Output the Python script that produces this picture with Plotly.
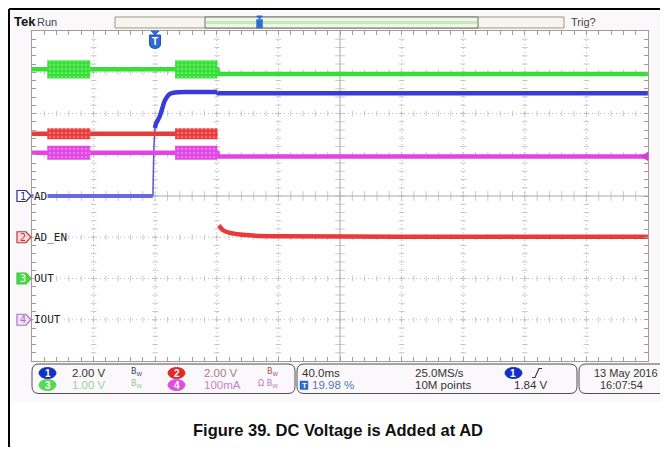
import plotly.graph_objects as go

# ---------------- data ----------------
TIME_PER_DIV = 40.0          # ms / div
TRIG_POS = 0.1998            # trigger position (fraction of record)
T0 = -TRIG_POS * 10 * TIME_PER_DIV
T1 = T0 + 10 * TIME_PER_DIV

# Ch1  AD (V)
ad_t = [-79.9, -1.4, -1.1, -0.8, -0.1, 0.5, 1.8, 3.1, 4.4, 5.7, 7.7, 9.6, 12.9, 19.4, 40.5, 41.0, 320.0]
ad_v = [0.0, 0.0, 1.3, 2.3, 3.3, 3.49, 3.68, 3.88, 4.17, 4.51, 4.80, 4.95, 5.02, 5.04, 5.04, 4.98, 4.98]
# Ch2  AD_EN (V)
en_t = [-79.9, 40.5, None, 41.4, 44.2, 48.6, 55.1, 63.5, 81.0, 159.0, 320.0]
en_v = [5.02, 5.02, None, 0.58, 0.34, 0.21, 0.13, 0.08, 0.05, 0.03, 0.03]
# Ch3  OUT (V)
out_t = [-79.9, 40.5, 41.0, 320.0]
out_v = [5.07, 5.07, 4.96, 4.96]
# Ch4  IOUT (mA)
iout_t = [-79.9, 40.5, 41.0, 320.0]
iout_v = [405, 405, 396, 396]

# switching bursts (ms) and half peak-to-peak amplitude per channel
burst_start = [-70.0, 13.0]
burst_end = [-42.0, 40.5]
en_burst = 0.27
out_burst = 0.22
iout_burst = 17

ch_names = ["AD", "AD_EN", "OUT", "IOUT"]
ch_scale = [2.0, 2.0, 1.0, 100.0]      # units / div
ch_offset_div = [0, -1, -2, -3]        # ground marker, div from centre
ch_colors = ["#3a3ad4", "#e83a3a", "#35df35", "#e246e2"]

# ---------------- geometry helpers (page pixels; page has an 8px body margin) ----------------
OFF = 8
W, H = 668 - 2 * OFF, 455 - 2 * OFF
L, R, TOP, BOT = 32, 648, 31, 361
PW, PH = R - L, BOT - TOP


def xp(px):
    return (px - L) / PW


def yp(py):
    return (BOT - py) / PH


yranges = [[(-4 - o) * s, (4 - o) * s] for s, o in zip(ch_scale, ch_offset_div)]

fig = go.Figure()
shapes = []
annots = []

# scope screen background
shapes.append(dict(type="rect", xref="paper", yref="paper", x0=xp(11), x1=xp(676), y0=yp(11), y1=yp(402),
                   fillcolor="#fbf8fb", line_width=0, layer="below"))
shapes.append(dict(type="rect", xref="paper", yref="paper", x0=0, x1=1, y0=0, y1=1,
                   fillcolor="white", line_width=0, layer="below"))
# outer frame
shapes.append(dict(type="line", xref="paper", yref="paper", x0=xp(9), x1=xp(9), y0=yp(9), y1=yp(464),
                   line=dict(color="black", width=2)))
shapes.append(dict(type="line", xref="paper", yref="paper", x0=xp(9), x1=xp(677), y0=yp(9), y1=yp(9),
                   line=dict(color="black", width=2)))

# graticule
GRID = "#bdbdbd"
for k in range(1, 10):
    t = T0 + k * TIME_PER_DIV
    shapes.append(dict(type="line", xref="x", yref="paper", x0=t, x1=t, y0=0, y1=1, layer="below",
                       line=dict(color="#a8a8a8" if k == 5 else GRID, width=1, dash="solid" if k == 5 else "1px,3px")))
for k in range(1, 8):
    v = yranges[0][0] + k * ch_scale[0]
    shapes.append(dict(type="line", xref="paper", yref="y", x0=0, x1=1, y0=v, y1=v, layer="below",
                       line=dict(color="#a8a8a8" if k == 4 else GRID, width=1, dash="solid" if k == 4 else "1px,3px")))

# minor tick marks on centre lines and grid lines
minor_t = [T0 + i * TIME_PER_DIV / 5 for i in range(1, 50)]
minor_v = [yranges[0][0] + i * ch_scale[0] / 5 for i in range(1, 40)]
tx, ty, tsz = [], [], []
for k in range(1, 8):
    v = yranges[0][0] + k * ch_scale[0]
    for t in minor_t:
        tx.append(t); ty.append(v); tsz.append(7 if k == 4 else 4)
fig.add_trace(go.Scatter(x=tx, y=ty, mode="markers", hoverinfo="skip", showlegend=False,
                         marker=dict(symbol="line-ns", size=tsz, line=dict(color="#b4b4b4", width=1))))
tx, ty, tsz = [], [], []
for k in range(1, 10):
    t = T0 + k * TIME_PER_DIV
    for v in minor_v:
        tx.append(t); ty.append(v); tsz.append(7 if k == 5 else 4)
fig.add_trace(go.Scatter(x=tx, y=ty, mode="markers", hoverinfo="skip", showlegend=False,
                         marker=dict(symbol="line-ew", size=tsz, line=dict(color="#b4b4b4", width=1))))

# ---------------- waveforms ----------------
def bursts(level, half, axis, color, light):
    for s, e in zip(burst_start, burst_end):
        fig.add_trace(go.Scatter(x=[s, e, e, s, s], y=[level + half, level + half, level - half, level - half, level + half],
                                 yaxis=axis, mode="lines", fill="toself", line=dict(width=0, color=color),
                                 fillcolor=color, hoverinfo="skip", showlegend=False,
                                 fillpattern=dict(shape=".", bgcolor=color, fgcolor=light, size=4, solidity=0.35)))


# Ch4 IOUT
fig.add_trace(go.Scatter(x=iout_t, y=iout_v, yaxis="y4", mode="lines", line=dict(color=ch_colors[3], width=4.5),
                         showlegend=False, hoverinfo="skip"))
bursts(iout_v[0], iout_burst, "y4", ch_colors[3], "#f4a6f4")
# Ch3 OUT
fig.add_trace(go.Scatter(x=out_t, y=out_v, yaxis="y3", mode="lines", line=dict(color=ch_colors[2], width=4.5),
                         showlegend=False, hoverinfo="skip"))
bursts(out_v[0], out_burst, "y3", ch_colors[2], "#9cf39c")
# Ch2 AD_EN
fig.add_trace(go.Scatter(x=en_t, y=en_v, yaxis="y2", mode="lines", line=dict(color=ch_colors[1], width=4.5, shape="spline", smoothing=0.6),
                         showlegend=False, hoverinfo="skip", connectgaps=False))
bursts(en_v[0], en_burst, "y2", ch_colors[1], "#f7a0a0")
# Ch1 AD : fast edge thin, rest thick
fig.add_trace(go.Scatter(x=ad_t[1:5], y=ad_v[1:5], yaxis="y", mode="lines", line=dict(color="#5656c8", width=1.5),
                         showlegend=False, hoverinfo="skip"))
fig.add_trace(go.Scatter(x=ad_t[:2], y=ad_v[:2], yaxis="y", mode="lines", line=dict(color="#6a6ae0", width=4),
                         showlegend=False, hoverinfo="skip"))
fig.add_trace(go.Scatter(x=ad_t[4:15], y=ad_v[4:15], yaxis="y", mode="lines", line=dict(color=ch_colors[0], width=4.5, shape="spline", smoothing=0.5),
                         showlegend=False, hoverinfo="skip"))
fig.add_trace(go.Scatter(x=ad_t[14:], y=ad_v[14:], yaxis="y", mode="lines", line=dict(color=ch_colors[0], width=4.5),
                         showlegend=False, hoverinfo="skip"))

# ---------------- channel ground markers & labels ----------------
mk_fill = ["white", "#f8dada", "#4ad84a", "#f4e2f6"]
mk_line = ["#2a2a90", "#c83232", "#3cc83c", "#b070c0"]
mk_text = ["#2a2a90", "#c83232", "white", "#b070c0"]
for i, (name, (lo, hi)) in enumerate(zip(ch_names, yranges)):
    yg = (0 - lo) / (hi - lo)
    h = 5.5 / PH
    path = (f"M{xp(17)},{yg + h} L{xp(26)},{yg + h} L{xp(31)},{yg} L{xp(26)},{yg - h} "
            f"L{xp(17)},{yg - h} Z")
    shapes.append(dict(type="path", xref="paper", yref="paper", path=path, fillcolor=mk_fill[i],
                       line=dict(color=mk_line[i], width=1.2)))
    annots.append(dict(xref="paper", yref="paper", x=xp(22.5), y=yg, text=str(i + 1), showarrow=False,
                       xanchor="center", yanchor="middle", font=dict(family="DejaVu Sans Mono", size=10, color=mk_text[i])))
    annots.append(dict(xref="paper", yref="paper", x=xp(33), y=yg, text=name, showarrow=False, bgcolor="white",
                       borderpad=0, xanchor="left", yanchor="middle",
                       font=dict(family="DejaVu Sans Mono", size=11, color="#222")))

# ch4 level arrow at right edge
y4 = (iout_v[-1] - yranges[3][0]) / (yranges[3][1] - yranges[3][0])
shapes.append(dict(type="path", xref="paper", yref="paper",
                   path=f"M{xp(641)},{y4} L{xp(648)},{y4 + 4 / PH} L{xp(648)},{y4 - 4 / PH} Z",
                   fillcolor="#d23cd2", line=dict(color="#d23cd2", width=1)))

# trigger marker at top of graticule
xt = (0 - T0) / (T1 - T0)
cx = L + xt * PW
TB = "#2f6bd0"
shapes.append(dict(type="path", xref="paper", yref="paper",
                   path=f"M{xp(cx - 4)},{yp(31)} L{xp(cx + 4)},{yp(31)} L{xp(cx)},{yp(35)} Z",
                   fillcolor=TB, line=dict(color=TB, width=1)))
shapes.append(dict(type="path", xref="paper", yref="paper",
                   path=(f"M{xp(cx - 5.5)},{yp(35)} L{xp(cx + 5.5)},{yp(35)} L{xp(cx + 5.5)},{yp(44)} "
                         f"Q{xp(cx + 5.5)},{yp(48)} {xp(cx)},{yp(48.5)} Q{xp(cx - 5.5)},{yp(48)} {xp(cx - 5.5)},{yp(44)} Z"),
                   fillcolor=TB, line=dict(color="#1d4fa8", width=1)))
annots.append(dict(xref="paper", yref="paper", x=xp(cx), y=yp(41.5), text="<b>T</b>", showarrow=False,
                   xanchor="center", yanchor="middle", font=dict(family="Liberation Sans", size=10, color="white")))

# ---------------- header ----------------
annots.append(dict(xref="paper", yref="paper", x=xp(12), y=yp(22), text="<b>Tek</b>", showarrow=False,
                   xanchor="left", yanchor="middle", font=dict(family="Liberation Sans Narrow, Liberation Sans", size=13, color="#111")))
annots.append(dict(xref="paper", yref="paper", x=xp(35), y=yp(22), text="Run", showarrow=False,
                   xanchor="left", yanchor="middle", font=dict(family="Liberation Sans", size=11, color="#444")))
annots.append(dict(xref="paper", yref="paper", x=xp(569), y=yp(22), text="Trig?", showarrow=False,
                   xanchor="left", yanchor="middle", font=dict(family="Liberation Sans", size=11, color="#444")))
shapes.append(dict(type="rect", xref="paper", yref="paper", x0=xp(115), x1=xp(564), y0=yp(17), y1=yp(28),
                   fillcolor="#f7f4ee", line=dict(color="#9c968a", width=1)))
shapes.append(dict(type="rect", xref="paper", yref="paper", x0=xp(205), x1=xp(478), y0=yp(17), y1=yp(28),
                   fillcolor="#eef7e8", line=dict(color="#6f6f6f", width=1)))
shapes.append(dict(type="line", xref="paper", yref="paper", x0=xp(206), x1=xp(477), y0=yp(22.5), y1=yp(22.5),
                   line=dict(color="#c9e9bd", width=3)))
rt = 205 + xt * (478 - 205)
shapes.append(dict(type="path", xref="paper", yref="paper",
                   path=f"M{xp(rt - 3)},{yp(16)} L{xp(rt + 3)},{yp(16)} L{xp(rt)},{yp(19)} Z",
                   fillcolor=TB, line=dict(color=TB, width=1)))
shapes.append(dict(type="rect", xref="paper", yref="paper", x0=xp(rt - 3), x1=xp(rt + 3), y0=yp(19.5), y1=yp(28),
                   fillcolor=TB, line=dict(color=TB, width=0.5)))

# ---------------- status bar ----------------
def rbox(x0, y0, x1, y1, r):
    return (f"M{xp(x0 + r)},{yp(y0)} L{xp(x1 - r)},{yp(y0)} Q{xp(x1)},{yp(y0)} {xp(x1)},{yp(y0 + r)} "
            f"L{xp(x1)},{yp(y1 - r)} Q{xp(x1)},{yp(y1)} {xp(x1 - r)},{yp(y1)} L{xp(x0 + r)},{yp(y1)} "
            f"Q{xp(x0)},{yp(y1)} {xp(x0)},{yp(y1 - r)} L{xp(x0)},{yp(y0 + r)} Q{xp(x0)},{yp(y0)} {xp(x0 + r)},{yp(y0)} Z")


for x0, x1 in [(32, 295), (297, 577), (579, 684)]:
    shapes.append(dict(type="path", xref="paper", yref="paper", path=rbox(x0, 364, x1, 393.5, 7),
                       fillcolor="rgba(0,0,0,0)", line=dict(color="#505050", width=1)))

ROW1, ROW2 = 373, 385
ovals = [(39, ROW1, "#1530c0", "1"), (168, ROW1, "#e02a2a", "2"), (39, ROW2, "#55d855", "3"),
         (168, ROW2, "#e050e0", "4"), (505, ROW1, "#1530c0", "1")]
for ox, oy, oc, ot in ovals:
    shapes.append(dict(type="circle", xref="paper", yref="paper", x0=xp(ox), x1=xp(ox + 17),
                       y0=yp(oy - 5.5), y1=yp(oy + 5.5), fillcolor=oc, line=dict(color=oc, width=1)))
    annots.append(dict(xref="paper", yref="paper", x=xp(ox + 8.5), y=yp(oy), text="<b>" + ot + "</b>", showarrow=False,
                       xanchor="center", yanchor="middle", font=dict(family="Liberation Sans", size=10, color="white")))

FS = 11.5
status_texts = [
    (70, ROW1, "2.00 V", "#333333", FS), (202, ROW1, "2.00 V", "#b07a7a", FS),
    (70, ROW2, "1.00 V", "#8fd88f", FS), (202, ROW2, "100mA", "#c384c3", FS),
    (300, ROW1, "40.0ms", "#333333", FS), (310, ROW2, "19.98 %", "#4d7aa8", FS),
    (413, ROW1, "25.0MS/s", "#333333", FS), (413, ROW2, "10M points", "#333333", FS),
    (512, ROW2, "1.84 V", "#333333", FS),
    (592, ROW1, "13 May 2016", "#333333", 11), (598, ROW2, "16:07:54", "#333333", 11),
]
for sx, sy, st, sc, fs in status_texts:
    annots.append(dict(xref="paper", yref="paper", x=xp(sx), y=yp(sy), text=st, showarrow=False,
                       xanchor="left", yanchor="middle", font=dict(family="Liberation Sans", size=fs, color=sc)))
bw = [(129, ROW1, "B<sub>W</sub>", "#3a3a60"), (265, ROW1, "B<sub>W</sub>", "#a05050"),
      (129, ROW2, "B<sub>W</sub>", "#88c888"), (256, ROW2, "Ω B<sub>W</sub>", "#c070c0")]
for sx, sy, st, sc in bw:
    annots.append(dict(xref="paper", yref="paper", x=xp(sx), y=yp(sy - 1), text=st, showarrow=False,
                       xanchor="left", yanchor="middle", font=dict(family="DejaVu Sans", size=8, color=sc)))
# T box in horizontal readout
shapes.append(dict(type="rect", xref="paper", yref="paper", x0=xp(300), x1=xp(308), y0=yp(381), y1=yp(389.5),
                   fillcolor=TB, line=dict(color=TB, width=0.5)))
annots.append(dict(xref="paper", yref="paper", x=xp(304), y=yp(385.3), text="<b>T</b>", showarrow=False,
                   xanchor="center", yanchor="middle", font=dict(family="Liberation Sans", size=8, color="white")))
# rising edge symbol
shapes.append(dict(type="path", xref="paper", yref="paper",
                   path=f"M{xp(532)},{yp(377.5)} L{xp(535)},{yp(377.5)} L{xp(539)},{yp(368.5)} L{xp(542)},{yp(368.5)}",
                   line=dict(color="#333", width=1.1)))

# ---------------- caption ----------------
annots.append(dict(xref="paper", yref="paper", x=xp(338), y=yp(430), text="<b>Figure 39. DC Voltage is Added at AD</b>",
                   showarrow=False, xanchor="center", yanchor="middle",
                   font=dict(family="Liberation Sans, Arial", size=16.5, color="#111")))

# ---------------- axes / layout ----------------
BORDER = "#a39d8f"
fig.update_layout(
    width=W, height=H, autosize=False,
    margin=dict(l=L - OFF, r=W - (R - OFF), t=TOP - OFF, b=H - (BOT - OFF), pad=0),
    paper_bgcolor="white", plot_bgcolor="rgba(0,0,0,0)",
    showlegend=False,
    xaxis=dict(range=[T0, T1], showgrid=False, zeroline=False, showline=True, linecolor=BORDER, linewidth=1,
               mirror="ticks", ticks="inside", ticklen=4, tickcolor=BORDER, tick0=T0, dtick=TIME_PER_DIV / 5,
               showticklabels=False, fixedrange=True),
    yaxis=dict(range=yranges[0], showgrid=False, zeroline=False, showline=True, linecolor=BORDER, linewidth=1,
               mirror="ticks", ticks="inside", ticklen=4, tickcolor=BORDER, tick0=yranges[0][0],
               dtick=ch_scale[0] / 5, showticklabels=False, fixedrange=True),
    yaxis2=dict(range=yranges[1], overlaying="y", visible=False, fixedrange=True),
    yaxis3=dict(range=yranges[2], overlaying="y", visible=False, fixedrange=True),
    yaxis4=dict(range=yranges[3], overlaying="y", visible=False, fixedrange=True),
    shapes=shapes, annotations=annots,
)
fig.write_html("out.html")
